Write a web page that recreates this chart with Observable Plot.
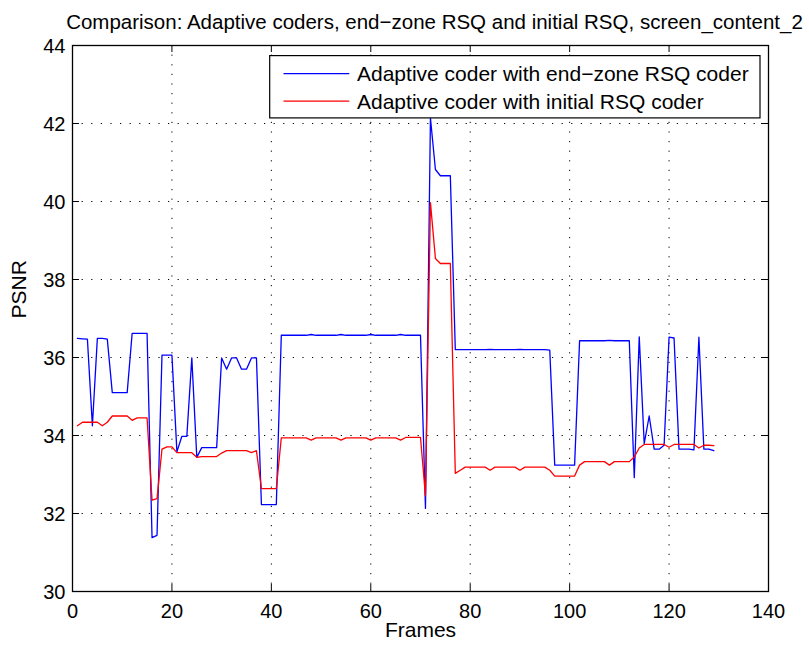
<!DOCTYPE html>
<html><head><meta charset="utf-8">
<script src="https://cdn.jsdelivr.net/npm/d3@7"></script>
<script src="https://cdn.jsdelivr.net/npm/@observablehq/plot@0.6"></script>
<style>body{margin:0;background:#fff} #chart{width:809px;height:646px}</style>
</head><body><div id="chart"></div>
<script>
const frames = [1,2,3,4,5,6,7,8,9,10,11,12,13,14,15,16,17,18,19,20,21,22,23,24,25,26,27,28,29,30,31,32,33,34,35,36,37,38,39,40,41,42,43,44,45,46,47,48,49,50,51,52,53,54,55,56,57,58,59,60,61,62,63,64,65,66,67,68,69,70,71,72,73,74,75,76,77,78,79,80,81,82,83,84,85,86,87,88,89,90,91,92,93,94,95,96,97,98,99,100,101,102,103,104,105,106,107,108,109,110,111,112,113,114,115,116,117,118,119,120,121,122,123,124,125,126,127,128,129];
const blue = [
36.49,36.48,36.47,34.25,36.49,36.49,36.47,35.10,35.10,35.10,
35.10,36.62,36.62,36.62,36.62,31.38,31.44,36.06,36.06,36.06,
33.58,33.98,33.98,35.99,33.44,33.69,33.69,33.69,33.69,35.99,
35.70,35.99,35.99,35.70,35.70,35.99,35.99,32.23,32.23,32.23,
32.23,36.57,36.57,36.57,36.57,36.57,36.57,36.59,36.57,36.57,
36.57,36.57,36.57,36.59,36.57,36.57,36.57,36.57,36.57,36.59,
36.57,36.57,36.57,36.57,36.57,36.59,36.57,36.57,36.57,36.57,
32.13,42.14,40.82,40.66,40.66,40.66,36.20,36.20,36.20,36.20,
36.20,36.20,36.20,36.21,36.20,36.20,36.20,36.20,36.20,36.21,
36.20,36.20,36.20,36.20,36.20,36.19,33.24,33.24,33.24,33.24,
33.24,36.43,36.43,36.43,36.43,36.43,36.43,36.44,36.43,36.43,
36.43,36.43,32.92,36.53,33.79,34.50,33.65,33.65,33.75,36.52,
36.50,33.65,33.65,33.65,33.63,36.52,33.65,33.65,33.61];
const red = [
34.25,34.34,34.34,34.34,34.34,34.25,34.34,34.50,34.50,34.50,
34.50,34.39,34.45,34.45,34.45,32.34,32.38,33.65,33.71,33.71,
33.56,33.56,33.56,33.56,33.44,33.46,33.46,33.46,33.46,33.55,
33.61,33.61,33.61,33.61,33.61,33.56,33.61,32.64,32.64,32.64,
32.64,33.94,33.94,33.94,33.94,33.94,33.94,33.88,33.94,33.94,
33.94,33.94,33.94,33.88,33.94,33.94,33.94,33.94,33.94,33.88,
33.94,33.94,33.94,33.94,33.94,33.88,33.95,33.95,33.95,33.95,
32.45,39.97,38.54,38.41,38.41,38.41,33.03,33.11,33.19,33.19,
33.19,33.19,33.19,33.11,33.19,33.19,33.19,33.19,33.19,33.11,
33.19,33.19,33.19,33.19,33.19,33.11,32.96,32.96,32.96,32.96,
32.96,33.24,33.33,33.33,33.33,33.33,33.33,33.24,33.33,33.33,
33.33,33.33,33.45,33.68,33.77,33.77,33.77,33.77,33.77,33.70,
33.77,33.77,33.77,33.77,33.77,33.68,33.75,33.75,33.74];
const xTicks = [0,20,40,60,80,100,120,140];
const yTicks = [30,32,34,36,38,40,42,44];
const titleText = "Comparison: Adaptive coders, end\u2212zone RSQ and initial RSQ, screen_content_2";
const xLabel = "Frames";
const yLabel = "PSNR";
const seriesNames = ["Adaptive coder with end\u2212zone RSQ coder", "Adaptive coder with initial RSQ coder"];
const seriesColors = ["#0000ff", "#ff0000"];

const W = 809, H = 646, mT = 45, mL = 72, mR = 41, mB = 55;
const fw = W - mL - mR, fh = H - mT - mB, tk = 7;
const blueData = frames.map((f, i) => ({frame: f, psnr: blue[i]}));
const redData = frames.map((f, i) => ({frame: f, psnr: red[i]}));
const innerX = xTicks.slice(1, -1), innerY = yTicks.slice(1, -1);
const grid = {stroke: "#000", strokeWidth: 1, strokeDasharray: "1.2,8.4"};
const tick = {stroke: "#000", strokeWidth: 1};

const chart = Plot.plot({
  width: W, height: H, marginTop: mT, marginLeft: mL, marginRight: mR, marginBottom: mB,
  style: {fontFamily: "'Liberation Sans', Arial, sans-serif", background: "#fff", color: "#000"},
  x: {domain: [0, 140]},
  y: {domain: [30, 44]},
  marks: [
    Plot.ruleX(innerX, {x: d => d, ...grid}),
    Plot.ruleY(innerY, {y: d => d, ...grid}),
    Plot.tickX(xTicks, {x: d => d, insetTop: fh - tk, ...tick}),
    Plot.tickX(xTicks, {x: d => d, insetBottom: fh - tk, ...tick}),
    Plot.tickY(yTicks, {y: d => d, insetRight: fw - tk, ...tick}),
    Plot.tickY(yTicks, {y: d => d, insetLeft: fw - tk, ...tick}),
    Plot.line(blueData, {x: "frame", y: "psnr", stroke: seriesColors[0], strokeWidth: 1.3}),
    Plot.line(redData, {x: "frame", y: "psnr", stroke: seriesColors[1], strokeWidth: 1.3}),
    Plot.frame({stroke: "#000", strokeWidth: 1.3}),
    Plot.axisX({ticks: xTicks, anchor: "bottom", tickSize: 0, tickPadding: 12, fontSize: 20, label: null}),
    Plot.axisY({ticks: yTicks, anchor: "left", tickSize: 0, tickPadding: 7, dy: 1, fontSize: 20, label: null}),
    Plot.text([titleText], {frameAnchor: "top", dy: -31, dx: 14, fontSize: 20.5}),
    Plot.text([xLabel], {frameAnchor: "bottom", dy: 45, fontSize: 21}),
    Plot.text([yLabel], {frameAnchor: "left", dx: -53, rotate: -90, fontSize: 21})
  ]
});
document.getElementById("chart").appendChild(chart);

// legend
const svg = d3.select(chart);
const lg = svg.append("g").attr("font-family", "'Liberation Sans', Arial, sans-serif").attr("text-anchor", "start");
lg.append("rect").attr("x", 269.7).attr("y", 55.6).attr("width", 490.3).attr("height", 62.3)
  .attr("fill", "#fff").attr("stroke", "#000").attr("stroke-width", 1.2);
seriesNames.forEach((name, i) => {
  const cy = 73.6 + i * 27.6;
  lg.append("line").attr("x1", 283.5).attr("x2", 349.3).attr("y1", cy).attr("y2", cy)
    .attr("stroke", seriesColors[i]).attr("stroke-width", 1.3);
  lg.append("text").attr("x", 357).attr("y", cy).attr("dy", "0.35em")
    .attr("text-anchor", "start").attr("font-size", 21).attr("fill", "#000").text(name);
});
</script>
</body></html>
